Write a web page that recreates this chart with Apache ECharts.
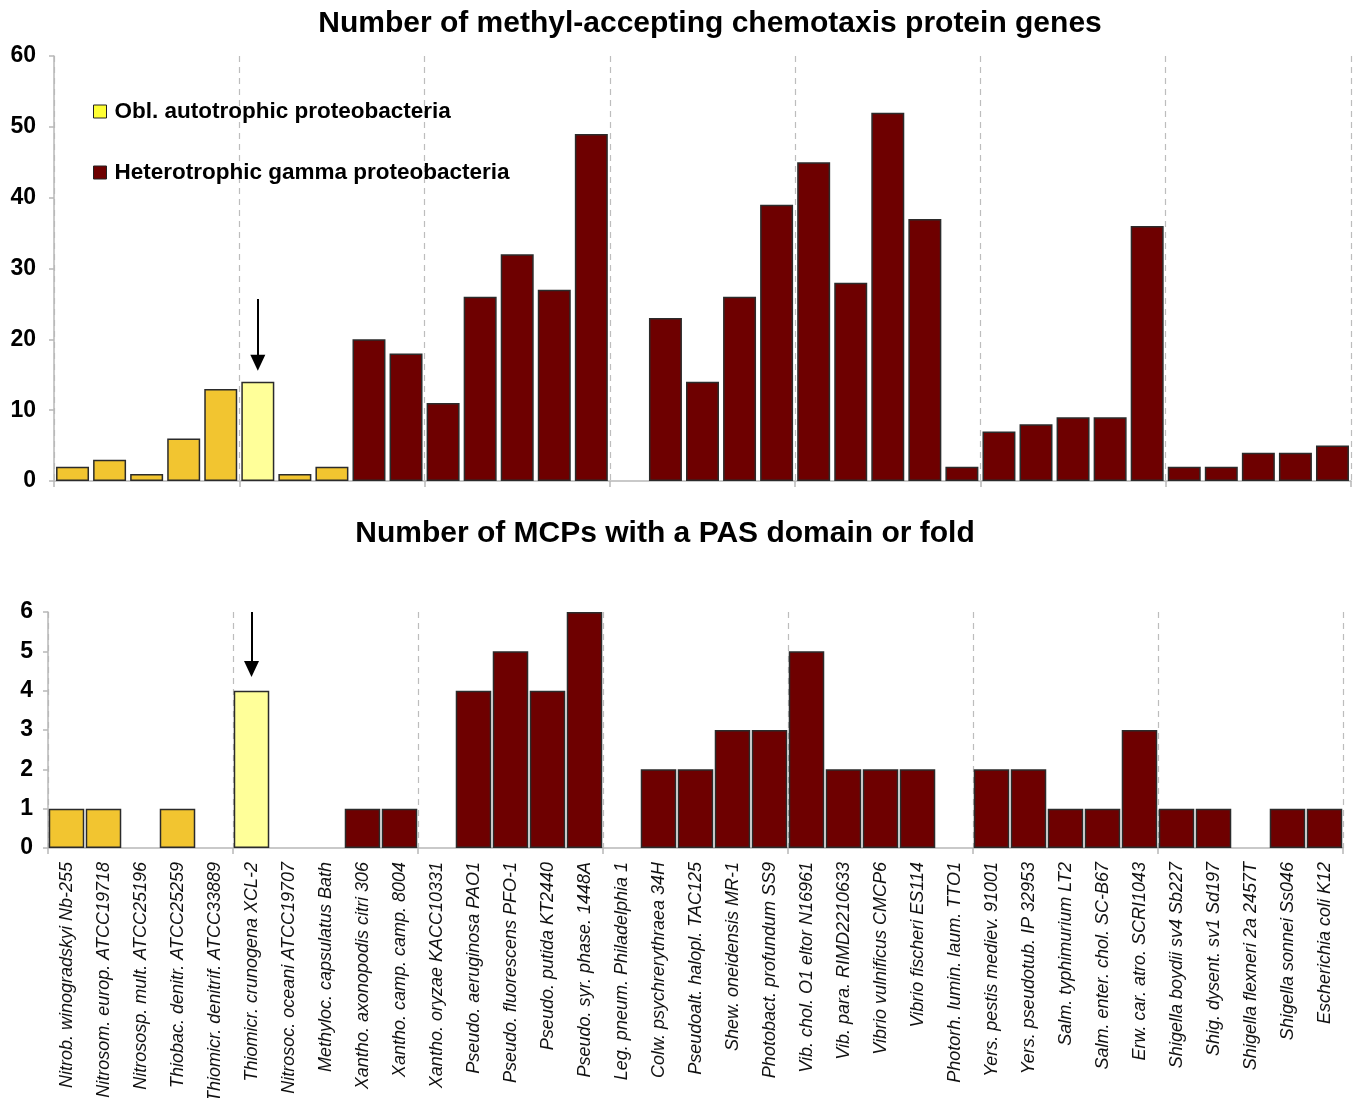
<!DOCTYPE html>
<html>
<head>
<meta charset="utf-8">
<script src="https://cdn.jsdelivr.net/npm/echarts@6/dist/echarts.min.js"></script>
<style>
  html, body { margin: 0; padding: 0; background: #fff; }
  #chart { width: 1354px; height: 1098px; }
</style>
</head>
<body>
<div id="chart"></div>
<script>
// Genomes, in plotting order (first 8 are obligate autotrophs)
const genomes = [
  'Nitrob. winogradskyi Nb-255',
  'Nitrosom. europ. ATCC19718',
  'Nitrososp. mult. ATCC25196',
  'Thiobac. denitr. ATCC25259',
  'Thiomicr. denitrif. ATCC33889',
  'Thiomicr. crunogena XCL-2',
  'Nitrosoc. oceani ATCC19707',
  'Methyloc. capsulatus Bath',
  'Xantho. axonopodis citri 306',
  'Xantho. camp. camp. 8004',
  'Xantho. oryzae KACC10331',
  'Pseudo. aeruginosa PAO1',
  'Pseudo. fluorescens PFO-1',
  'Pseudo. putida KT2440',
  'Pseudo. syr. phase. 1448A',
  'Leg. pneum. Philadelphia 1',
  'Colw. psychrerythraea 34H',
  'Pseudoalt. halopl. TAC125',
  'Shew. oneidensis MR-1',
  'Photobact. profundum SS9',
  'Vib. chol. O1 eltor N16961',
  'Vib. para. RIMD2210633',
  'Vibrio vulnificus CMCP6',
  'Vibrio fischeri ES114',
  'Photorh. lumin. laum. TTO1',
  'Yers. pestis mediev. 91001',
  'Yers. pseudotub. IP 32953',
  'Salm. typhimurium LT2',
  'Salm. enter. chol. SC-B67',
  'Erw. car. atro. SCRI1043',
  'Shigella boydii sv4 Sb227',
  'Shig. dysent. sv1 Sd197',
  'Shigella flexneri 2a 2457T',
  'Shigella sonnei Ss046',
  'Escherichia coli K12'
];

// Number of methyl-accepting chemotaxis protein (MCP) genes per genome
const mcpCounts = [
  2, 3, 1, 6, 13, 14, 1, 2,
  20, 18, 11, 26, 32, 27, 49, 0,
  23, 14, 26, 39, 45, 28, 52, 37, 2,
  7, 8, 9, 9, 36, 2, 2, 4, 4, 5
];

// Number of MCPs with a PAS domain or fold per genome
const pasCounts = [
  1, 1, 0, 1, 0, 4, 0, 0,
  1, 1, 0, 4, 5, 4, 6, 0,
  2, 2, 3, 3, 5, 2, 2, 2, 0,
  2, 2, 1, 1, 3, 1, 1, 0, 1, 1
];

const autotrophCount = 8;                       // leading genomes that are obligate autotrophs
const highlighted = 'Thiomicr. crunogena XCL-2'; // genome marked with an arrow
const groupSize = 5;                            // dashed separators every 5 genomes

const groupNames = ['Obl. autotrophic proteobacteria', 'Heterotrophic gamma proteobacteria'];

// y-axis ranges and tick steps
const mcpAxis = { min: 0, max: 60, interval: 10 };
const pasAxis = { min: 0, max: 6, interval: 1 };

// arrow start / end values above the highlighted bar
const mcpArrow = [25.7, 16.7];
const pasArrow = [6, 4.55];

const COLORS = {
  autotroph: '#F2C530',
  highlight: '#FFFF99',
  heterotroph: '#6E0000',
  legendAutotroph: '#FFFF33',
  border: '#2B2B2B',
  axis: '#B8B8B8'
};

const FONT = 'Liberation Sans, Arial, sans-serif';

function barItems(values, wantAutotroph) {
  return values.map((v, i) => {
    const isAuto = i < autotrophCount;
    if (isAuto !== wantAutotroph) return '-';
    let color = isAuto ? COLORS.autotroph : COLORS.heterotroph;
    if (genomes[i] === highlighted) color = COLORS.highlight;
    return {
      value: v,
      itemStyle: { color: color, borderColor: COLORS.border, borderWidth: v === 0 ? 0 : 1.5 }
    };
  });
}

function arrow(range) {
  return {
    silent: true,
    animation: false,
    symbol: ['none', 'triangle'],
    symbolSize: [15, 16],
    label: { show: false },
    lineStyle: { color: '#000', width: 2, type: 'solid' },
    emphasis: { disabled: true },
    data: [[{ coord: [highlighted, range[0]] }, { coord: [highlighted, range[1]] }]]
  };
}

const everyGroup = (index) => index % groupSize === 0;

function categoryAxis(gridIndex, showLabels) {
  return {
    type: 'category',
    gridIndex: gridIndex,
    data: genomes,
    boundaryGap: true,
    axisLine: { show: true, lineStyle: { color: COLORS.axis, width: 1.5 } },
    axisTick: { show: true, interval: everyGroup, length: 6, lineStyle: { color: COLORS.axis, width: 1.5 } },
    splitLine: { show: true, interval: everyGroup, lineStyle: { color: '#BDBDBD', width: 1.2, type: [6, 5] } },
    axisLabel: {
      show: showLabels,
      interval: 0,
      rotate: 90,
      margin: 14,
      fontFamily: FONT,
      fontStyle: 'italic',
      fontSize: 18,
      color: '#111'
    }
  };
}

function valueAxis(gridIndex, range, margin) {
  return {
    type: 'value',
    gridIndex: gridIndex,
    min: range.min,
    max: range.max,
    interval: range.interval,
    axisLine: { show: true, lineStyle: { color: COLORS.axis, width: 1.5 } },
    axisTick: { show: true, length: 5, lineStyle: { color: COLORS.axis, width: 1.5 } },
    splitLine: { show: false },
    axisLabel: { margin: margin, fontFamily: FONT, fontWeight: 'bold', fontSize: 23, color: '#000' }
  };
}

const chart = echarts.init(document.getElementById('chart'), null, { renderer: 'canvas' });

chart.setOption({
  animation: false,
  backgroundColor: '#fff',
  title: [
    {
      text: 'Number of methyl-accepting chemotaxis protein genes',
      left: 710, top: 9, textAlign: 'center', padding: 0,
      textStyle: { fontFamily: FONT, fontWeight: 'bold', fontSize: 30, color: '#000' }
    },
    {
      text: 'Number of MCPs with a PAS domain or fold',
      left: 665, top: 519, textAlign: 'center', padding: 0,
      textStyle: { fontFamily: FONT, fontWeight: 'bold', fontSize: 30, color: '#000' }
    }
  ],
  legend: {
    orient: 'vertical',
    left: 93,
    top: 100,
    padding: 0,
    itemWidth: 13,
    itemHeight: 13,
    itemGap: 38,
    selectedMode: false,
    icon: 'rect',
    textStyle: { fontFamily: FONT, fontWeight: 'bold', fontSize: 22.5, color: '#000', padding: [0, 0, 0, 3] },
    data: [
      { name: groupNames[0], itemStyle: { color: COLORS.legendAutotroph, borderColor: '#222', borderWidth: 1 } },
      { name: groupNames[1], itemStyle: { color: COLORS.heterotroph, borderColor: '#222', borderWidth: 1 } }
    ]
  },
  grid: [
    { left: 54, top: 56, width: 1297, height: 425, outerBoundsMode: 'none', containLabel: false },
    { left: 48, top: 612, width: 1295, height: 236, outerBoundsMode: 'none', containLabel: false }
  ],
  xAxis: [categoryAxis(0, false), categoryAxis(1, true)],
  yAxis: [valueAxis(0, mcpAxis, 18), valueAxis(1, pasAxis, 15)],
  series: [
    {
      name: groupNames[0], type: 'bar', xAxisIndex: 0, yAxisIndex: 0,
      barGap: '-100%', barCategoryGap: '11%',
      itemStyle: { color: COLORS.autotroph },
      data: barItems(mcpCounts, true),
      markLine: arrow(mcpArrow)
    },
    {
      name: groupNames[1], type: 'bar', xAxisIndex: 0, yAxisIndex: 0,
      barGap: '-100%', barCategoryGap: '11%',
      itemStyle: { color: COLORS.heterotroph },
      data: barItems(mcpCounts, false)
    },
    {
      name: groupNames[0], type: 'bar', xAxisIndex: 1, yAxisIndex: 1,
      barGap: '-100%', barCategoryGap: '4%',
      itemStyle: { color: COLORS.autotroph },
      data: barItems(pasCounts, true),
      markLine: arrow(pasArrow)
    },
    {
      name: groupNames[1], type: 'bar', xAxisIndex: 1, yAxisIndex: 1,
      barGap: '-100%', barCategoryGap: '4%',
      itemStyle: { color: COLORS.heterotroph },
      data: barItems(pasCounts, false)
    }
  ]
});
</script>
</body>
</html>
